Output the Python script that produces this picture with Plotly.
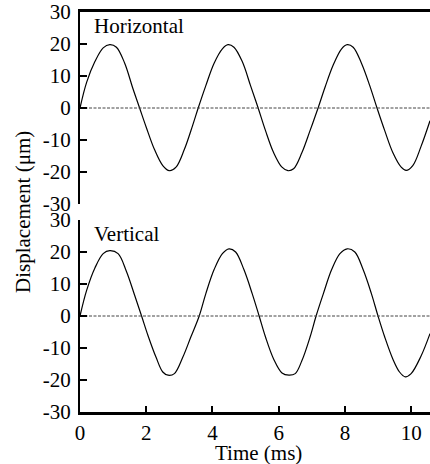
import plotly.graph_objects as go

# Horizontal displacement trace (time in ms, displacement in µm)
h_time = [0, 0.2, 0.45, 0.7, 0.9, 1.1, 1.35, 1.6, 1.8, 2.0, 2.25, 2.5, 2.7, 2.9, 3.15, 3.4, 3.57,
          3.8, 4.05, 4.3, 4.47, 4.65, 4.9, 5.15, 5.38, 5.6, 5.85, 6.1, 6.28, 6.45, 6.7, 6.95, 7.19,
          7.4, 7.65, 7.9, 8.07, 8.25, 8.5, 8.75, 8.97, 9.2, 9.45, 9.7, 9.85, 10.05, 10.3, 10.57]
h_disp = [0, 8, 14.5, 18.8, 19.8, 19, 14, 6, 0, -6, -13, -18, -19.6, -18.5, -13, -5.5, 0,
          7, 14, 18.5, 19.8, 19, 14.5, 7, 0, -7, -14, -18.5, -19.6, -19, -14, -7, 0,
          6.5, 13.5, 18.5, 19.8, 19, 14, 7, 0, -7, -14, -18.5, -19.5, -18, -12, -4]

# Vertical displacement trace
v_time = [0, 0.2, 0.45, 0.7, 0.9, 1.15, 1.4, 1.65, 1.86, 2.05, 2.3, 2.5, 2.66, 2.85, 3.1, 3.35, 3.6,
          3.8, 4.05, 4.3, 4.5, 4.7, 4.95, 5.2, 5.41, 5.6, 5.85, 6.1, 6.31, 6.5, 6.7, 6.95, 7.13,
          7.35, 7.6, 7.85, 8.07, 8.3, 8.55, 8.8, 9.0, 9.2, 9.45, 9.65, 9.82, 10.0, 10.3, 10.57]
v_disp = [0, 8, 15, 19.5, 20.4, 19.5, 14, 6.5, 0, -6, -13, -17.5, -18.5, -18, -13, -6.5, 0,
          7, 14.5, 19.5, 21, 20, 14.5, 7, 0, -6.5, -13.5, -17.8, -18.5, -18, -14, -6.5, 0,
          7, 14.5, 19.5, 21, 20, 14.5, 7, 0, -6.5, -13.5, -17.5, -19, -18, -12.5, -5.5]

y_ticks = [-30, -20, -10, 0, 10, 20, 30]
y_tick_labels = ["-30", "-20", "-10", "0", "10", "20", "30"]
x_ticks = [0, 2, 4, 6, 8, 10]
x_range = [0, 10.57]
panel_labels = ["Horizontal", "Vertical"]

FONT = "Liberation Serif"
FS = 21
fig = go.Figure()

wave = dict(color="black", width=1.2, shape="spline")
zero = dict(color="#444", width=1, dash="3px,1.5px")

# top panel: xaxis2 / yaxis2; bottom panel: xaxis / yaxis
fig.add_trace(go.Scatter(x=h_time, y=h_disp, mode="lines", line=wave, xaxis="x2", yaxis="y2", showlegend=False))
fig.add_trace(go.Scatter(x=x_range, y=[0, 0], mode="lines", line=zero, xaxis="x2", yaxis="y2", showlegend=False))
fig.add_trace(go.Scatter(x=v_time, y=v_disp, mode="lines", line=wave, xaxis="x", yaxis="y", showlegend=False))
fig.add_trace(go.Scatter(x=x_range, y=[0, 0], mode="lines", line=zero, xaxis="x", yaxis="y", showlegend=False))

yax = dict(range=[-30, 30], tickvals=y_ticks, ticktext=y_tick_labels, ticks="inside", ticklen=7, tickwidth=2,
           tickcolor="black", showline=True, linecolor="black", linewidth=2, showgrid=False, zeroline=False,
           ticklabelstandoff=3, tickfont=dict(family=FONT, size=FS, color="black"))

fig.update_layout(
    width=430, height=464,
    margin=dict(l=80, r=0, t=12, b=52),
    paper_bgcolor="white", plot_bgcolor="white",
    xaxis=dict(domain=[0, 1], range=x_range, tickvals=x_ticks, ticks="inside", ticklen=6, tickwidth=2,
               tickcolor="black", showline=True, linecolor="black", linewidth=3, showgrid=False,
               zeroline=False, anchor="y",
               tickfont=dict(family=FONT, size=FS, color="black")),
    yaxis=dict(domain=[0, 0.48], anchor="x", **yax),
    xaxis2=dict(domain=[0, 1], range=x_range, side="top", showline=True, linecolor="black", linewidth=3,
                ticks="", showticklabels=False, showgrid=False, zeroline=False, anchor="y2"),
    yaxis2=dict(domain=[0.52, 1], anchor="x2", **yax),
)

fig.add_annotation(text=panel_labels[0], xref="x2 domain", yref="y2 domain", x=0.035, y=1.0,
                   xanchor="left", yanchor="top", showarrow=False,
                   font=dict(family=FONT, size=FS, color="black"))
fig.add_annotation(text=panel_labels[1], xref="x domain", yref="y domain", x=0.035, y=1.0,
                   xanchor="left", yanchor="top", showarrow=False,
                   font=dict(family=FONT, size=FS, color="black"))
fig.add_annotation(text="Displacement (μm)", xref="paper", yref="paper", x=-57 / 350, y=0.5,
                   xanchor="center", yanchor="middle", textangle=-90, showarrow=False,
                   font=dict(family=FONT, size=FS, color="black"))
fig.add_annotation(text="Time (ms)", xref="paper", yref="paper", x=0.51, y=-41 / 400,
                   xanchor="center", yanchor="middle", showarrow=False,
                   font=dict(family=FONT, size=FS, color="black"))

fig.write_html("out.html", config={"displayModeBar": False},
               post_script="document.body.style.margin='0';document.body.style.overflow='hidden';")
